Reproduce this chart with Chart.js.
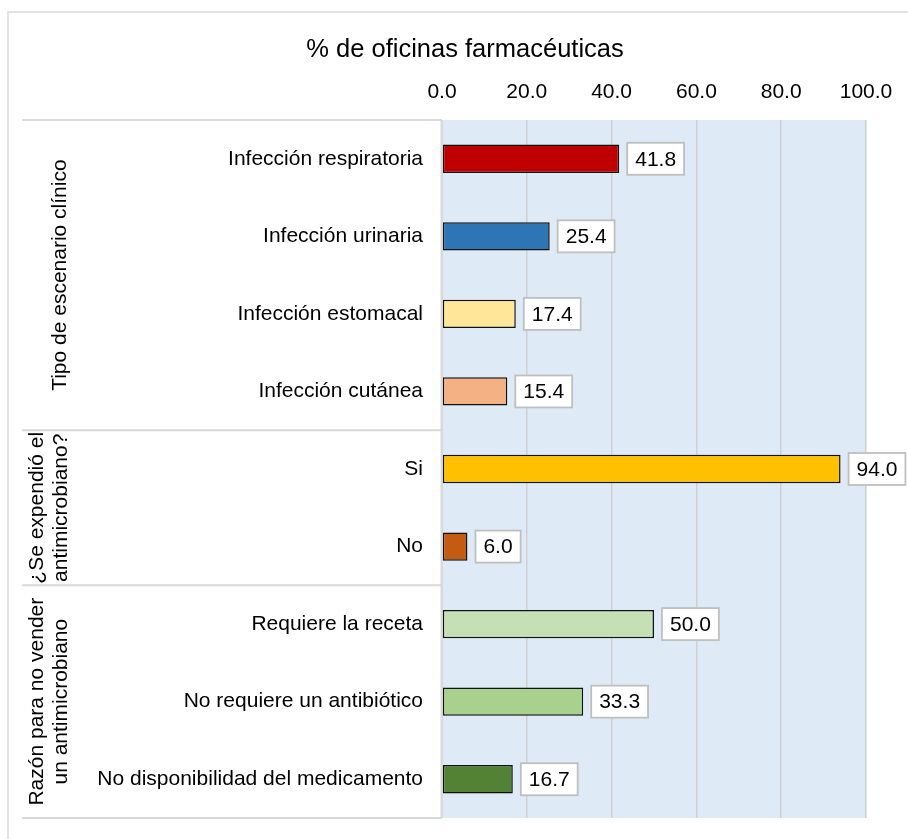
<!DOCTYPE html>
<html>
<head>
<meta charset="utf-8">
<script src="https://cdn.jsdelivr.net/npm/chart.js@4/dist/chart.umd.min.js"></script>
<style>
  html, body { margin: 0; padding: 0; background: #ffffff; }
  #wrap { position: relative; width: 908px; height: 839px; }
</style>
</head>
<body>
<div id="wrap"><canvas id="c"></canvas></div>
<script>
const chartTitle = '% de oficinas farmacéuticas';
const categories = [
  'Infección respiratoria',
  'Infección urinaria',
  'Infección estomacal',
  'Infección cutánea',
  'Si',
  'No',
  'Requiere la receta',
  'No requiere un antibiótico',
  'No disponibilidad del medicamento'
];
const values = [41.8, 25.4, 17.4, 15.4, 94.0, 6.0, 50.0, 33.3, 16.7];
const barColors = ['#C00000', '#2E75B6', '#FFE699', '#F4B183', '#FFC000', '#C55A11', '#C5E0B4', '#A9D18E', '#548235'];
const groupLabels = [
  ['Tipo de escenario clínico'],
  ['¿Se expendió el', 'antimicrobiano?'],
  ['Razón para no vender', 'un antimicrobiano']
];
const groupSizes = [4, 2, 3];
const xMin = 0, xMax = 100, xStep = 20;

const FONT = "'Liberation Sans', Arial, Helvetica, sans-serif";

const decorPlugin = {
  id: 'decor',
  beforeDraw(chart) {
    const ctx = chart.ctx;
    const a = chart.chartArea;
    ctx.save();
    ctx.fillStyle = '#DEEAF6';
    ctx.fillRect(a.left, a.top, a.right - a.left, a.bottom - a.top);
    ctx.strokeStyle = '#d9d9d9';
    ctx.lineWidth = 1.5;
    ctx.strokeRect(8, 12, 940, 900);
    ctx.fillStyle = '#000';
    ctx.font = '25.5px ' + FONT;
    ctx.textAlign = 'center';
    ctx.textBaseline = 'alphabetic';
    ctx.fillText(chartTitle, 465, 57);
    ctx.restore();
  },
  afterDatasetsDraw(chart) {
    const ctx = chart.ctx;
    const meta = chart.getDatasetMeta(0);
    ctx.save();
    ctx.font = '21px ' + FONT;
    ctx.textAlign = 'center';
    ctx.textBaseline = 'middle';
    meta.data.forEach((bar, i) => {
      const txt = values[i].toFixed(1);
      const w = ctx.measureText(txt).width + 16;
      const h = 32;
      const x0 = bar.x + 8;
      const y0 = bar.y - h / 2;
      ctx.fillStyle = '#ffffff';
      ctx.fillRect(x0, y0, w, h);
      ctx.strokeStyle = '#bfbfbf';
      ctx.lineWidth = 1.8;
      ctx.strokeRect(x0, y0, w, h);
      ctx.fillStyle = '#000';
      ctx.fillText(txt, x0 + w / 2, bar.y + 1);
    });
    ctx.restore();
  },
  afterDraw(chart) {
    const ctx = chart.ctx;
    const a = chart.chartArea;
    const ys = chart.scales.y;
    ctx.save();
    ctx.strokeStyle = '#d9d9d9';
    ctx.lineWidth = 2;
    const bounds = [a.top];
    let idx = 0;
    groupSizes.forEach((n) => {
      idx += n;
      if (idx < categories.length) {
        bounds.push((ys.getPixelForValue(idx - 1) + ys.getPixelForValue(idx)) / 2);
      } else {
        bounds.push(a.bottom);
      }
    });
    ctx.beginPath();
    bounds.forEach((y) => { ctx.moveTo(22, y); ctx.lineTo(a.left, y); });
    ctx.moveTo(a.left - 0.5, a.top);
    ctx.lineTo(a.left - 0.5, a.bottom);
    ctx.stroke();
    ctx.fillStyle = '#000';
    ctx.font = '21px ' + FONT;
    ctx.textAlign = 'center';
    ctx.textBaseline = 'alphabetic';
    groupLabels.forEach((lines, g) => {
      const cy = (bounds[g] + bounds[g + 1]) / 2;
      const xs = lines.length === 1 ? [66] : [43, 67];
      lines.forEach((t, k) => {
        ctx.save();
        ctx.translate(xs[k], cy);
        ctx.rotate(-Math.PI / 2);
        ctx.fillText(t, 0, 0);
        ctx.restore();
      });
    });
    ctx.restore();
  }
};

new Chart(document.getElementById('c'), {
  type: 'bar',
  data: {
    labels: categories,
    datasets: [{
      data: values,
      backgroundColor: barColors,
      borderColor: '#111111',
      borderWidth: 1.5,
      borderSkipped: false,
      barPercentage: 0.365,
      categoryPercentage: 1.0
    }]
  },
  options: {
    indexAxis: 'y',
    responsive: true,
    maintainAspectRatio: false,
    animation: false,
    layout: { padding: { top: 0, left: 0, right: 42, bottom: 21 } },
    plugins: {
      legend: { display: false },
      title: { display: false },
      tooltip: { enabled: false }
    },
    scales: {
      x: {
        type: 'linear',
        position: 'top',
        min: xMin,
        max: xMax,
        ticks: {
          stepSize: xStep,
          callback: (v) => Number(v).toFixed(1),
          font: { family: FONT, size: 21 },
          color: '#000',
          padding: 15,
          maxRotation: 0
        },
        grid: { color: '#d0d0d0', lineWidth: 1.5, drawTicks: false },
        border: { display: false },
        afterFit: (s) => { s.height = 120; s.paddingLeft = 0; s.paddingRight = 0; }
      },
      y: {
        type: 'category',
        ticks: {
          font: { family: FONT, size: 21 },
          color: '#000',
          padding: 19,
          autoSkip: false
        },
        grid: { display: false, drawTicks: false },
        border: { display: false },
        afterFit: (s) => { s.width = 442; s.paddingTop = 0; s.paddingBottom = 0; }
      }
    }
  },
  plugins: [decorPlugin]
});
</script>
</body>
</html>
